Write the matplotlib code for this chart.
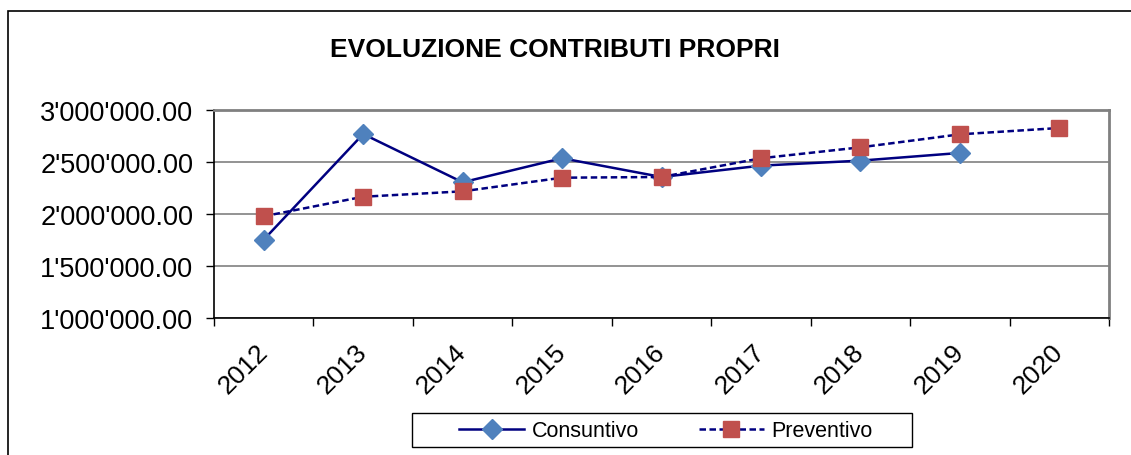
import numpy as np
import matplotlib
matplotlib.use("Agg")
import matplotlib.pyplot as plt
from matplotlib.patches import Rectangle
from matplotlib.ticker import FuncFormatter, MultipleLocator

# data
years = ["2012", "2013", "2014", "2015", "2016", "2017", "2018", "2019", "2020"]
consuntivo = [1753000, 2769000, 2305000, 2536000, 2356000, 2465000, 2513000, 2587000]
preventivo = [1978000, 2166000, 2218000, 2349000, 2356000, 2536000, 2641000, 2766000, 2827000]

plt.rcParams['font.family'] = ['Liberation Sans', 'DejaVu Sans']

fig = plt.figure(figsize=(11.31, 4.56), dpi=100)
# outer chart border (cut off at right and bottom)
fig.patches.append(Rectangle((8 / 1131, -0.1), 1.2, 1 - 12 / 456 + 0.1,
                             transform=fig.transFigure, fill=False,
                             edgecolor='black', linewidth=1.2))
# legend box
fig.patches.append(Rectangle((412 / 1131, 1 - 448 / 456), 500 / 1131, 34 / 456,
                             transform=fig.transFigure, fill=True, facecolor='white',
                             edgecolor='black', linewidth=1))

ax = fig.add_axes([214 / 1131, 1 - 319 / 456, (1109 - 214) / 1131, (319 - 111) / 456])

x = np.arange(len(years))
ax.plot(x[:len(consuntivo)], consuntivo, color='#000080', lw=1.8, marker='D',
        markersize=10, markerfacecolor='#4F81BD', markeredgecolor='#4F81BD',
        label='Consuntivo')
ax.plot(x, preventivo, color='#000080', lw=1.8, linestyle=(0, (2.6, 1.4)), marker='s',
        markersize=11, markerfacecolor='#C0504D', markeredgecolor='#C0504D',
        label='Preventivo')

ax.set_xlim(-0.5, len(years) - 0.5)
ax.set_ylim(1000000, 3000000)
ax.yaxis.set_major_locator(MultipleLocator(500000))
ax.yaxis.set_major_formatter(FuncFormatter(lambda v, p: f"{v:,.2f}".replace(",", "'")))
ax.grid(axis='y', color='#808080', linewidth=1.2)
ax.set_axisbelow(True)

ax.set_xticks(x)
ax.set_xticklabels(years, rotation=45, ha='right', va='center', rotation_mode='anchor')
ax.set_xticks(np.arange(-0.5, len(years)), minor=True)
ax.tick_params(axis='x', which='major', length=0, pad=21, labelsize=19)
ax.tick_params(axis='x', which='minor', length=6, width=1, direction='out')
ax.tick_params(axis='y', length=6, width=1, direction='out', labelsize=19.5, pad=9)

for side in ['top', 'right']:
    ax.spines[side].set_color('#808080')
    ax.spines[side].set_linewidth(2)
for side in ['left', 'bottom']:
    ax.spines[side].set_color('black')
    ax.spines[side].set_linewidth(1.2)

fig.text(555 / 1131, 1 - 50 / 456, 'EVOLUZIONE CONTRIBUTI PROPRI', ha='center', va='center',
         fontsize=19, fontweight='bold')

leg = fig.legend(loc='center', bbox_to_anchor=(666 / 1131, 1 - 432 / 456), ncol=2,
                 fontsize=15.5, frameon=False, handlelength=3.0,
                 columnspacing=2.8, borderpad=0.25, handletextpad=0.35)

fig.savefig('out.png', dpi=100)
